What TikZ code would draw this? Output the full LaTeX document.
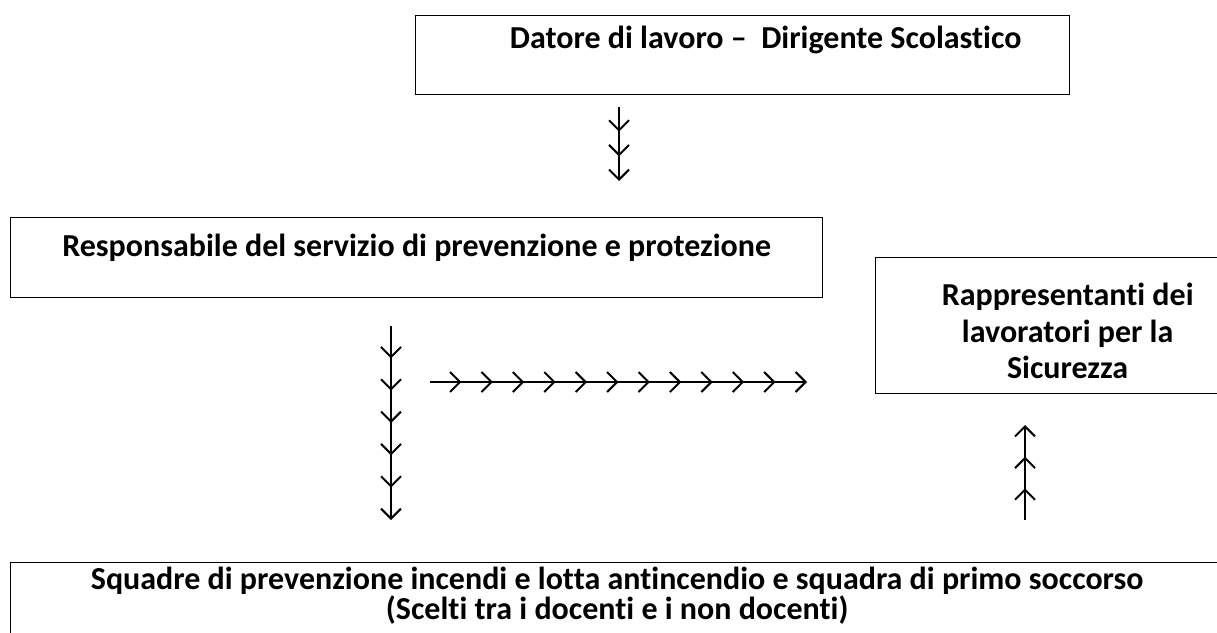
\documentclass[tikz,border=0pt]{standalone}
\usepackage{fontspec}
\setmainfont{Carlito}[Ligatures=NoCommon]
\usepackage{tikz}
\usetikzlibrary{arrows.meta,decorations.markings}

\begin{document}
\begin{tikzpicture}[x=1pt, y=-1pt,
	headrow/.style={line width=2pt, -{Straight Barb[length=10pt,width=20pt]},
		postaction={decorate},
		decoration={markings, mark=between positions {1/#1} and 0.99 step {1/#1}
			with {\arrow{Straight Barb[length=10pt,width=20pt]}}}}]
	\tikzstyle{box} = [draw, line width=1.3pt, anchor=north west, inner sep=0pt, align=center, font=\bfseries\fontsize{32}{36.5}\selectfont]
	\useasboundingbox (0,0) rectangle (1217,632);
	\clip (0,0) rectangle (1217,632);
	% boxes
	\node[box, minimum width=654pt, minimum height=79pt, text height=33pt, text depth=46pt] (dl) at (415,15) {\hspace*{46pt}Datore di lavoro – \ Dirigente Scolastico};
	\node[box, minimum width=812pt, minimum height=80pt, text height=39pt, text depth=41pt] (rspp) at (10,217) {Responsabile del servizio di prevenzione e protezione};
	\node[box, minimum width=384pt, minimum height=136pt, text height=121pt, text depth=15pt] (rls) at (875,257) {Rappresentanti dei\\lavoratori per la\\Sicurezza};
	\node[box, font=\bfseries\fontsize{32}{27}\selectfont, minimum width=1213pt, minimum height=100pt, text height=57pt, text depth=43pt] (sq) at (10,562) {Squadre di prevenzione incendi e lotta antincendio e squadra di primo soccorso\\(Scelti tra i docenti e i non docenti)};
	% arrow rows
	\coordinate (dl-a) at (619,107);
	\coordinate (dl-b) at (619,181);
	\coordinate (sq-a) at (391,326);
	\coordinate (sq-b) at (391,520);
	\coordinate (rl-a) at (430,382);
	\coordinate (rl-b) at (807,382);
	\coordinate (up-a) at (1025,520);
	\coordinate (up-b) at (1025,425);
	\draw[headrow=3] (dl-a) -- (dl-b);
	\draw[headrow=6] (sq-a) -- (sq-b);
	\draw[headrow=12] (rl-a) -- (rl-b);
	\draw[headrow=3] (up-a) -- (up-b);
\end{tikzpicture}
\end{document}
